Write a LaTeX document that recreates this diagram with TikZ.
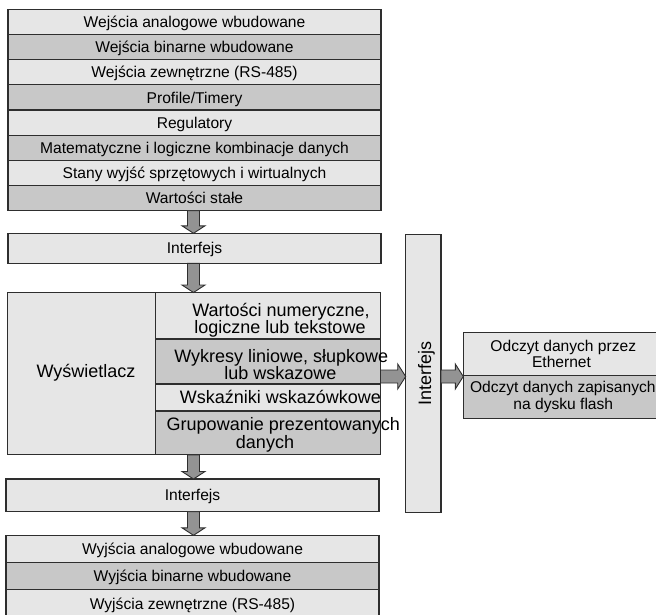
\documentclass[tikz,border=0pt]{standalone}
\usepackage{fontspec}
\setmainfont{Liberation Sans}
\usetikzlibrary{calc}
\definecolor{lightc}{HTML}{E6E6E6}
\definecolor{darkc}{HTML}{C8C8C8}
\definecolor{arrowc}{HTML}{939393}
\definecolor{bordc}{HTML}{2E2E2E}
\newcommand\fsmall{\fontsize{15.6}{18}\selectfont}
\newcommand\fbig{\fontsize{18}{20}\selectfont}
\newcommand\blkdown[2]{\path[blkarrow] let \p1=(#1), \p2=(#2) in
  (\x1-6pt,\y1) -- (\x1+6pt,\y1) -- (\x1+6pt,\y2+7.5pt) -- (\x1+11.5pt,\y2+7.5pt)
  -- (\x1,\y2) -- (\x1-11.5pt,\y2+7.5pt) -- (\x1-6pt,\y2+7.5pt) -- cycle;}
\newcommand\blkright[2]{\path[blkarrow] let \p1=(#1), \p2=(#2) in
  (\x1,\y1+6.5pt) -- (\x2-8pt,\y1+6.5pt) -- (\x2-8pt,\y1+12.5pt) -- (\x2,\y1)
  -- (\x2-8pt,\y1-12.5pt) -- (\x2-8pt,\y1-6.5pt) -- (\x1,\y1-6.5pt) -- cycle;}
\begin{document}
\begin{tikzpicture}[x=1pt,y=-1pt,
  cell/.style={draw=bordc, line width=1.1pt, inner sep=0pt, outer sep=0pt,
    anchor=north west, font=\fsmall, text height=11.2pt, text depth=0pt},
  lt/.style={cell, fill=lightc},
  dk/.style={cell, fill=darkc},
  toprow/.style={minimum width=373pt, minimum height=25.175pt},
  botrow/.style={minimum width=373pt, minimum height=27.3pt},
  disp/.style={minimum width=225pt},
  rbox/.style={minimum width=200pt},
  lbl/.style={anchor=base, inner sep=0pt, font=\fsmall},
  biglbl/.style={anchor=base, inner sep=0pt, font=\fbig},
  blkarrow/.style={fill=arrowc, draw=bordc, line width=0.9pt, line join=miter}]
\useasboundingbox (0,0) rectangle (656,614);

% top stack of inputs
\node[lt,toprow] (r0) at (8,9.3)    {Wejścia analogowe wbudowane};
\node[dk,toprow] (r1) at (8,34.475) {Wejścia binarne wbudowane};
\node[lt,toprow] (r2) at (8,59.65)  {Wejścia zewnętrzne (RS-485)};
\node[dk,toprow] (r3) at (8,84.825) {Profile/Timery};
\node[lt,toprow] (r4) at (8,110.0)  {Regulatory};
\node[dk,toprow] (r5) at (8,135.175) {Matematyczne i logiczne kombinacje danych};
\node[lt,toprow] (r6) at (8,160.35) {Stany wyjść sprzętowych i wirtualnych};
\node[dk,toprow] (r7) at (8,185.525) {Wartości stałe};

% first interface
\node[lt,minimum width=373pt,minimum height=30pt] (if1) at (8,233.3) {Interfejs};

% display block
\node[lt,minimum width=148.2pt,minimum height=162.3pt] (dl) at (7.3,292.5) {};
\node[lt,disp,minimum height=46.5pt] (d1) at (155.5,292.5) {};
\node[dk,disp,minimum height=45pt]   (d2) at (155.5,339) {};
\node[lt,disp,minimum height=27pt]   (d3) at (155.5,384) {};
\node[dk,disp,minimum height=43.8pt] (d4) at (155.5,411) {};
\node[biglbl] (tdl) at (86,377) {Wyświetlacz};
\node[biglbl] (t1a) at (281,316.5) {Wartości numeryczne,};
\node[biglbl] (t1b) at (280,333) {logiczne lub tekstowe};
\node[biglbl] (t2a) at (281.3,362) {Wykresy liniowe, słupkowe};
\node[biglbl] (t2b) at (280.5,379.5) {lub wskazowe};
\node[biglbl] (t3)  at (280.3,403.3) {Wskaźniki wskazówkowe};
\node[biglbl] (t4a) at (283.3,430) {Grupowanie prezentowanych};
\node[biglbl] (t4b) at (265,448) {danych};

% second interface
\node[lt,minimum width=373pt,minimum height=32.7pt] (if2) at (6,479) {Interfejs};

% outputs
\node[lt,botrow] (o1) at (6,535.3) {Wyjścia analogowe wbudowane};
\node[dk,botrow] (o2) at (6,562.6) {Wyjścia binarne wbudowane};
\node[lt,botrow] (o3) at (6,589.9) {Wyjścia zewnętrzne (RS-485)};

% vertical interface
\node[lt,minimum width=35.3pt,minimum height=277.6pt] (vif) at (405.7,234.7) {};
\node[biglbl,rotate=90] (tvif) at (431,373.5) {Interfejs};

% right box
\node[lt,rbox,minimum height=43.4pt] (rb1) at (463.3,332.3) {};
\node[dk,rbox,minimum height=42.6pt] (rb2) at (463.3,375.7) {};
\node[lbl] (tr1a) at (563.3,351.7) {Odczyt danych przez};
\node[lbl] (tr1b) at (561.5,367.7) {Ethernet};
\node[lbl] (tr2a) at (562.8,392.7) {Odczyt danych zapisanych};
\node[lbl] (tr2b) at (563.3,409.3) {na dysku flash};

% arrows
\coordinate (ax) at (193.5,0);
\coordinate (ay) at (0,376.5);
\blkdown{r7.south -| ax}{if1.north -| ax}
\blkdown{if1.south -| ax}{dl.north -| ax}
\blkdown{dl.south -| ax}{if2.north -| ax}
\blkdown{if2.south -| ax}{o1.north -| ax}
\blkright{d2.east |- ay}{vif.west |- ay}
\blkright{vif.east |- ay}{rb1.west |- ay}
\end{tikzpicture}
\end{document}
